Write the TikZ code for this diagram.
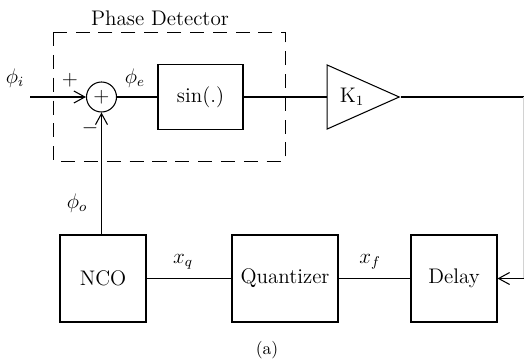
\documentclass[tikz,border=0pt]{standalone}
\usetikzlibrary{arrows.meta,shapes.geometric}

\begin{document}
\begin{tikzpicture}[line width=0.6pt, >={Straight Barb[length=2.2mm,width=2.4mm]},
  blk/.style={draw, minimum width=1.72cm, minimum height=1.74cm, inner sep=0pt, font=\large},
  lbl/.style={font=\large}]
\useasboundingbox (0,0) rectangle (10.5,-7.24);
\node[lbl] (pdlabel) at (3.2,-0.36) {Phase Detector};
\draw[dash pattern=on 8pt off 5pt, line width=0.5pt] (1.06,-0.64) rectangle (5.7,-3.22);
\coordinate (in) at (0.6,-1.94);
\node[draw, circle, minimum size=0.6cm, inner sep=0pt, font=\large] (sum) at (2.03,-1.94) {$+$};
\node[blk, minimum width=1.7cm, minimum height=1.3cm] (sin) at (4.01,-1.94) {sin(.)};
\node[draw, isosceles triangle, isosceles triangle stretches, minimum width=1.28cm, minimum height=1.44cm, inner sep=0pt] (amp) at (6.96,-1.94) {};
\node[lbl] (gain) at (7.04,-1.94) {K$_1$};
\coordinate (corner) at (10.47,-1.94);
\coordinate (back) at (10.47,-5.57);
\node[blk] (nco) at (2.06,-5.57) {NCO};
\node[blk, minimum width=2.12cm] (quant) at (5.7,-5.57) {Quantizer};
\node[blk] (delay) at (9.08,-5.57) {Delay};
\draw[->] (in) -- (sum);
\draw (sum) -- (sin);
\draw (sin) -- (amp.west);
\draw (amp.apex) -- (corner);
\draw[gray!35] (corner) -- (back);
\draw[->] (back) -- (delay);
\draw (delay) -- (quant);
\draw (quant) -- (nco);
\draw[->] (nco.north -| sum) -- (sum);
\node[lbl] at (0.3,-1.56) {$\phi_i$};
\node[lbl] at (1.4,-1.6) {$+$};
\node[lbl] at (1.8,-2.56) {$-$};
\node[lbl] at (2.7,-1.56) {$\phi_e$};
\node[lbl] at (1.54,-4.06) {$\phi_o$};
\node[lbl] at (3.66,-5.24) {$x_q$};
\node[lbl] at (7.4,-5.24) {$x_f$};
\node (caption) at (5.34,-7.0) {(a)};
\end{tikzpicture}
\end{document}
